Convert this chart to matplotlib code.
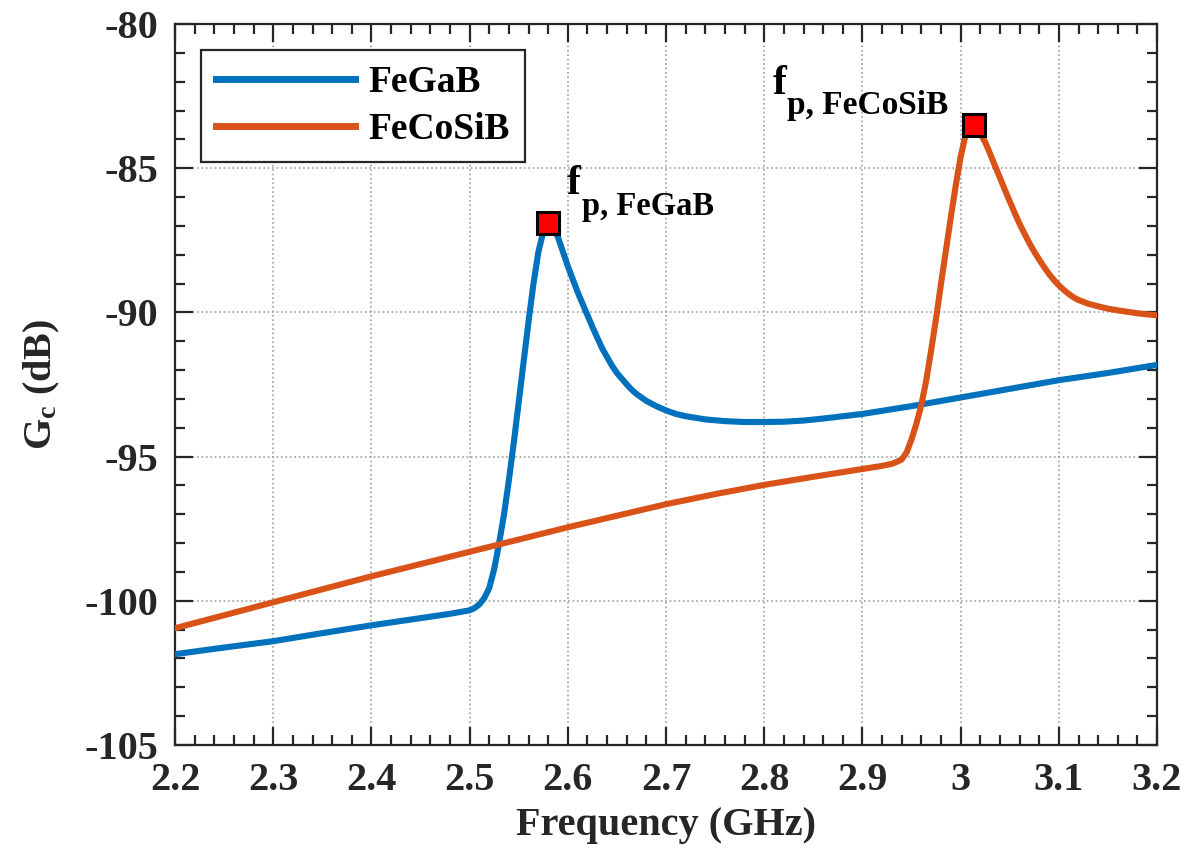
import numpy as np
import matplotlib.pyplot as plt
from matplotlib.ticker import MultipleLocator


# ---------------------------------
# font setup (Times-like, bold everywhere)
# ---------------------------------
plt.rcParams['font.family'] = ['Liberation Serif', 'DejaVu Serif']
plt.rcParams['font.weight'] = 'bold'
plt.rcParams['axes.unicode_minus'] = False
plt.rcParams['mathtext.fontset'] = 'custom'
plt.rcParams['mathtext.rm'] = 'Liberation Serif:bold'
plt.rcParams['mathtext.bf'] = 'Liberation Serif:bold'
plt.rcParams['mathtext.it'] = 'Liberation Serif:bold'


# ---------------------------------
# coupling gain of the two films
# ---------------------------------
# FeGaB
freqFeGaB = [2.20, 2.25, 2.30, 2.35, 2.40, 2.45, 2.48, 2.50, 2.505, 2.51,
             2.515, 2.52, 2.525, 2.53, 2.535, 2.54, 2.545, 2.55, 2.555, 2.56,
             2.565, 2.57, 2.575, 2.58, 2.585, 2.59, 2.595, 2.60, 2.605, 2.61,
             2.615, 2.62, 2.625, 2.63, 2.635, 2.64, 2.645, 2.65, 2.655, 2.66,
             2.665, 2.67, 2.68, 2.69, 2.70, 2.71, 2.72, 2.74, 2.76, 2.78,
             2.80, 2.82, 2.84, 2.86, 2.88, 2.90, 2.95, 3.00, 3.05, 3.10,
             3.15, 3.20]
gainFeGaB = [-101.85, -101.62, -101.40, -101.12, -100.85, -100.60, -100.45, -100.33, -100.25, -100.12,
             -99.90, -99.55, -98.90, -98.00, -97.00, -95.80, -94.50, -93.10, -91.70, -90.30,
             -89.00, -87.90, -87.20, -86.90, -87.00, -87.40, -87.90, -88.40, -88.85, -89.30,
             -89.70, -90.10, -90.50, -90.88, -91.25, -91.55, -91.85, -92.10, -92.30, -92.50,
             -92.68, -92.83, -93.07, -93.25, -93.40, -93.52, -93.60, -93.71, -93.77, -93.80,
             -93.80, -93.79, -93.75, -93.68, -93.60, -93.52, -93.25, -92.95, -92.65, -92.35,
             -92.10, -91.82]

# FeCoSiB
freqFeCoSiB = [2.20, 2.30, 2.40, 2.50, 2.60, 2.65, 2.70, 2.75, 2.80, 2.85,
               2.90, 2.92, 2.93, 2.935, 2.94, 2.945, 2.95, 2.955, 2.96, 2.965,
               2.97, 2.975, 2.98, 2.985, 2.99, 2.995, 3.00, 3.005, 3.01, 3.014,
               3.02, 3.025, 3.03, 3.035, 3.04, 3.045, 3.05, 3.055, 3.06, 3.065,
               3.07, 3.075, 3.08, 3.085, 3.09, 3.095, 3.10, 3.105, 3.11, 3.115,
               3.12, 3.13, 3.14, 3.15, 3.16, 3.17, 3.18, 3.19, 3.20]
gainFeCoSiB = [-100.95, -100.05, -99.15, -98.30, -97.45, -97.05, -96.65, -96.30, -95.98, -95.70,
               -95.43, -95.32, -95.25, -95.18, -95.10, -94.85, -94.40, -93.85, -93.20, -92.35,
               -91.30, -90.20, -89.00, -87.85, -86.70, -85.60, -84.60, -83.85, -83.55, -83.50,
               -83.80, -84.10, -84.50, -84.92, -85.33, -85.75, -86.15, -86.55, -86.93, -87.27,
               -87.60, -87.90, -88.17, -88.43, -88.67, -88.88, -89.06, -89.22, -89.36, -89.48,
               -89.57, -89.70, -89.79, -89.87, -89.93, -89.98, -90.03, -90.07, -90.10]

blue = '#0072BD'
orange = '#D95319'


# ---------------------------------
# figure
# ---------------------------------
fig = plt.figure(figsize=(11.86, 8.6), dpi=100)
ax = fig.add_axes([0.1476, 0.1337, 0.828, 0.8384])

ax.plot(freqFeGaB, gainFeGaB, color=blue, lw=4.4, label='FeGaB', zorder=3)
ax.plot(freqFeCoSiB, gainFeCoSiB, color=orange, lw=4.4, label='FeCoSiB', zorder=3)

# resonance peaks
iA = int(np.argmax(gainFeGaB))
iB = int(np.argmax(gainFeCoSiB))
peakA = (freqFeGaB[iA], gainFeGaB[iA])
peakB = (freqFeCoSiB[iB], gainFeCoSiB[iB])
for p in (peakA, peakB):
    ax.plot(*p, marker='s', ms=15.5, mfc='red', mec='black', mew=2.2, zorder=5)

# f_p labels, built from a big "f" and a smaller subscript
ax.annotate('f', xy=peakA, xytext=(13, 21), textcoords='offset points',
            fontsize=30, fontweight='bold', ha='left', va='baseline')
ax.annotate('p, FeGaB', xy=peakA, xytext=(24, 6), textcoords='offset points',
            fontsize=23.5, fontweight='bold', ha='left', va='baseline')
ax.annotate('f', xy=peakB, xytext=(-145, 22), textcoords='offset points',
            fontsize=30, fontweight='bold', ha='left', va='baseline')
ax.annotate('p, FeCoSiB', xy=peakB, xytext=(-135, 8), textcoords='offset points',
            fontsize=24, fontweight='bold', ha='left', va='baseline')

ax.set_xlim(2.2, 3.2)
ax.set_ylim(-105, -80)
ax.xaxis.set_major_locator(MultipleLocator(0.1))
ax.xaxis.set_minor_locator(MultipleLocator(0.02))
ax.yaxis.set_major_locator(MultipleLocator(5))
ax.yaxis.set_minor_locator(MultipleLocator(1))
ax.set_xticks(np.arange(2.2, 3.21, 0.1))
ax.set_xticklabels(['2.2', '2.3', '2.4', '2.5', '2.6', '2.7', '2.8', '2.9', '3', '3.1', '3.2'])

ax.tick_params(which='both', direction='in', top=True, right=True,
               color='#262626', width=1.6)
ax.tick_params(which='major', length=13, pad=12, labelsize=29, labelcolor='#262626')
ax.tick_params(which='minor', length=7)
for s in ax.spines.values():
    s.set_color('#262626')
    s.set_linewidth(1.6)

ax.grid(True, which='major', linestyle=':', color='#a0a0a0', linewidth=1.2)

ax.set_xlabel('Frequency (GHz)', fontsize=29, fontweight='bold', color='#262626', labelpad=6)
ax.set_ylabel('G$_\\mathbf{c}$ (dB)', fontsize=29, fontweight='bold', color='#262626', labelpad=16)

leg = ax.legend(loc='upper left', fontsize=27, handlelength=3.7, handletextpad=0.35,
                labelspacing=0.32, borderpad=0.4, borderaxespad=0.7,
                fancybox=False, framealpha=1)
leg.get_frame().set_edgecolor('#262626')
leg.get_frame().set_linewidth(1.6)
for line in leg.get_lines():
    line.set_linewidth(5)

fig.savefig('out.png', dpi=100)
